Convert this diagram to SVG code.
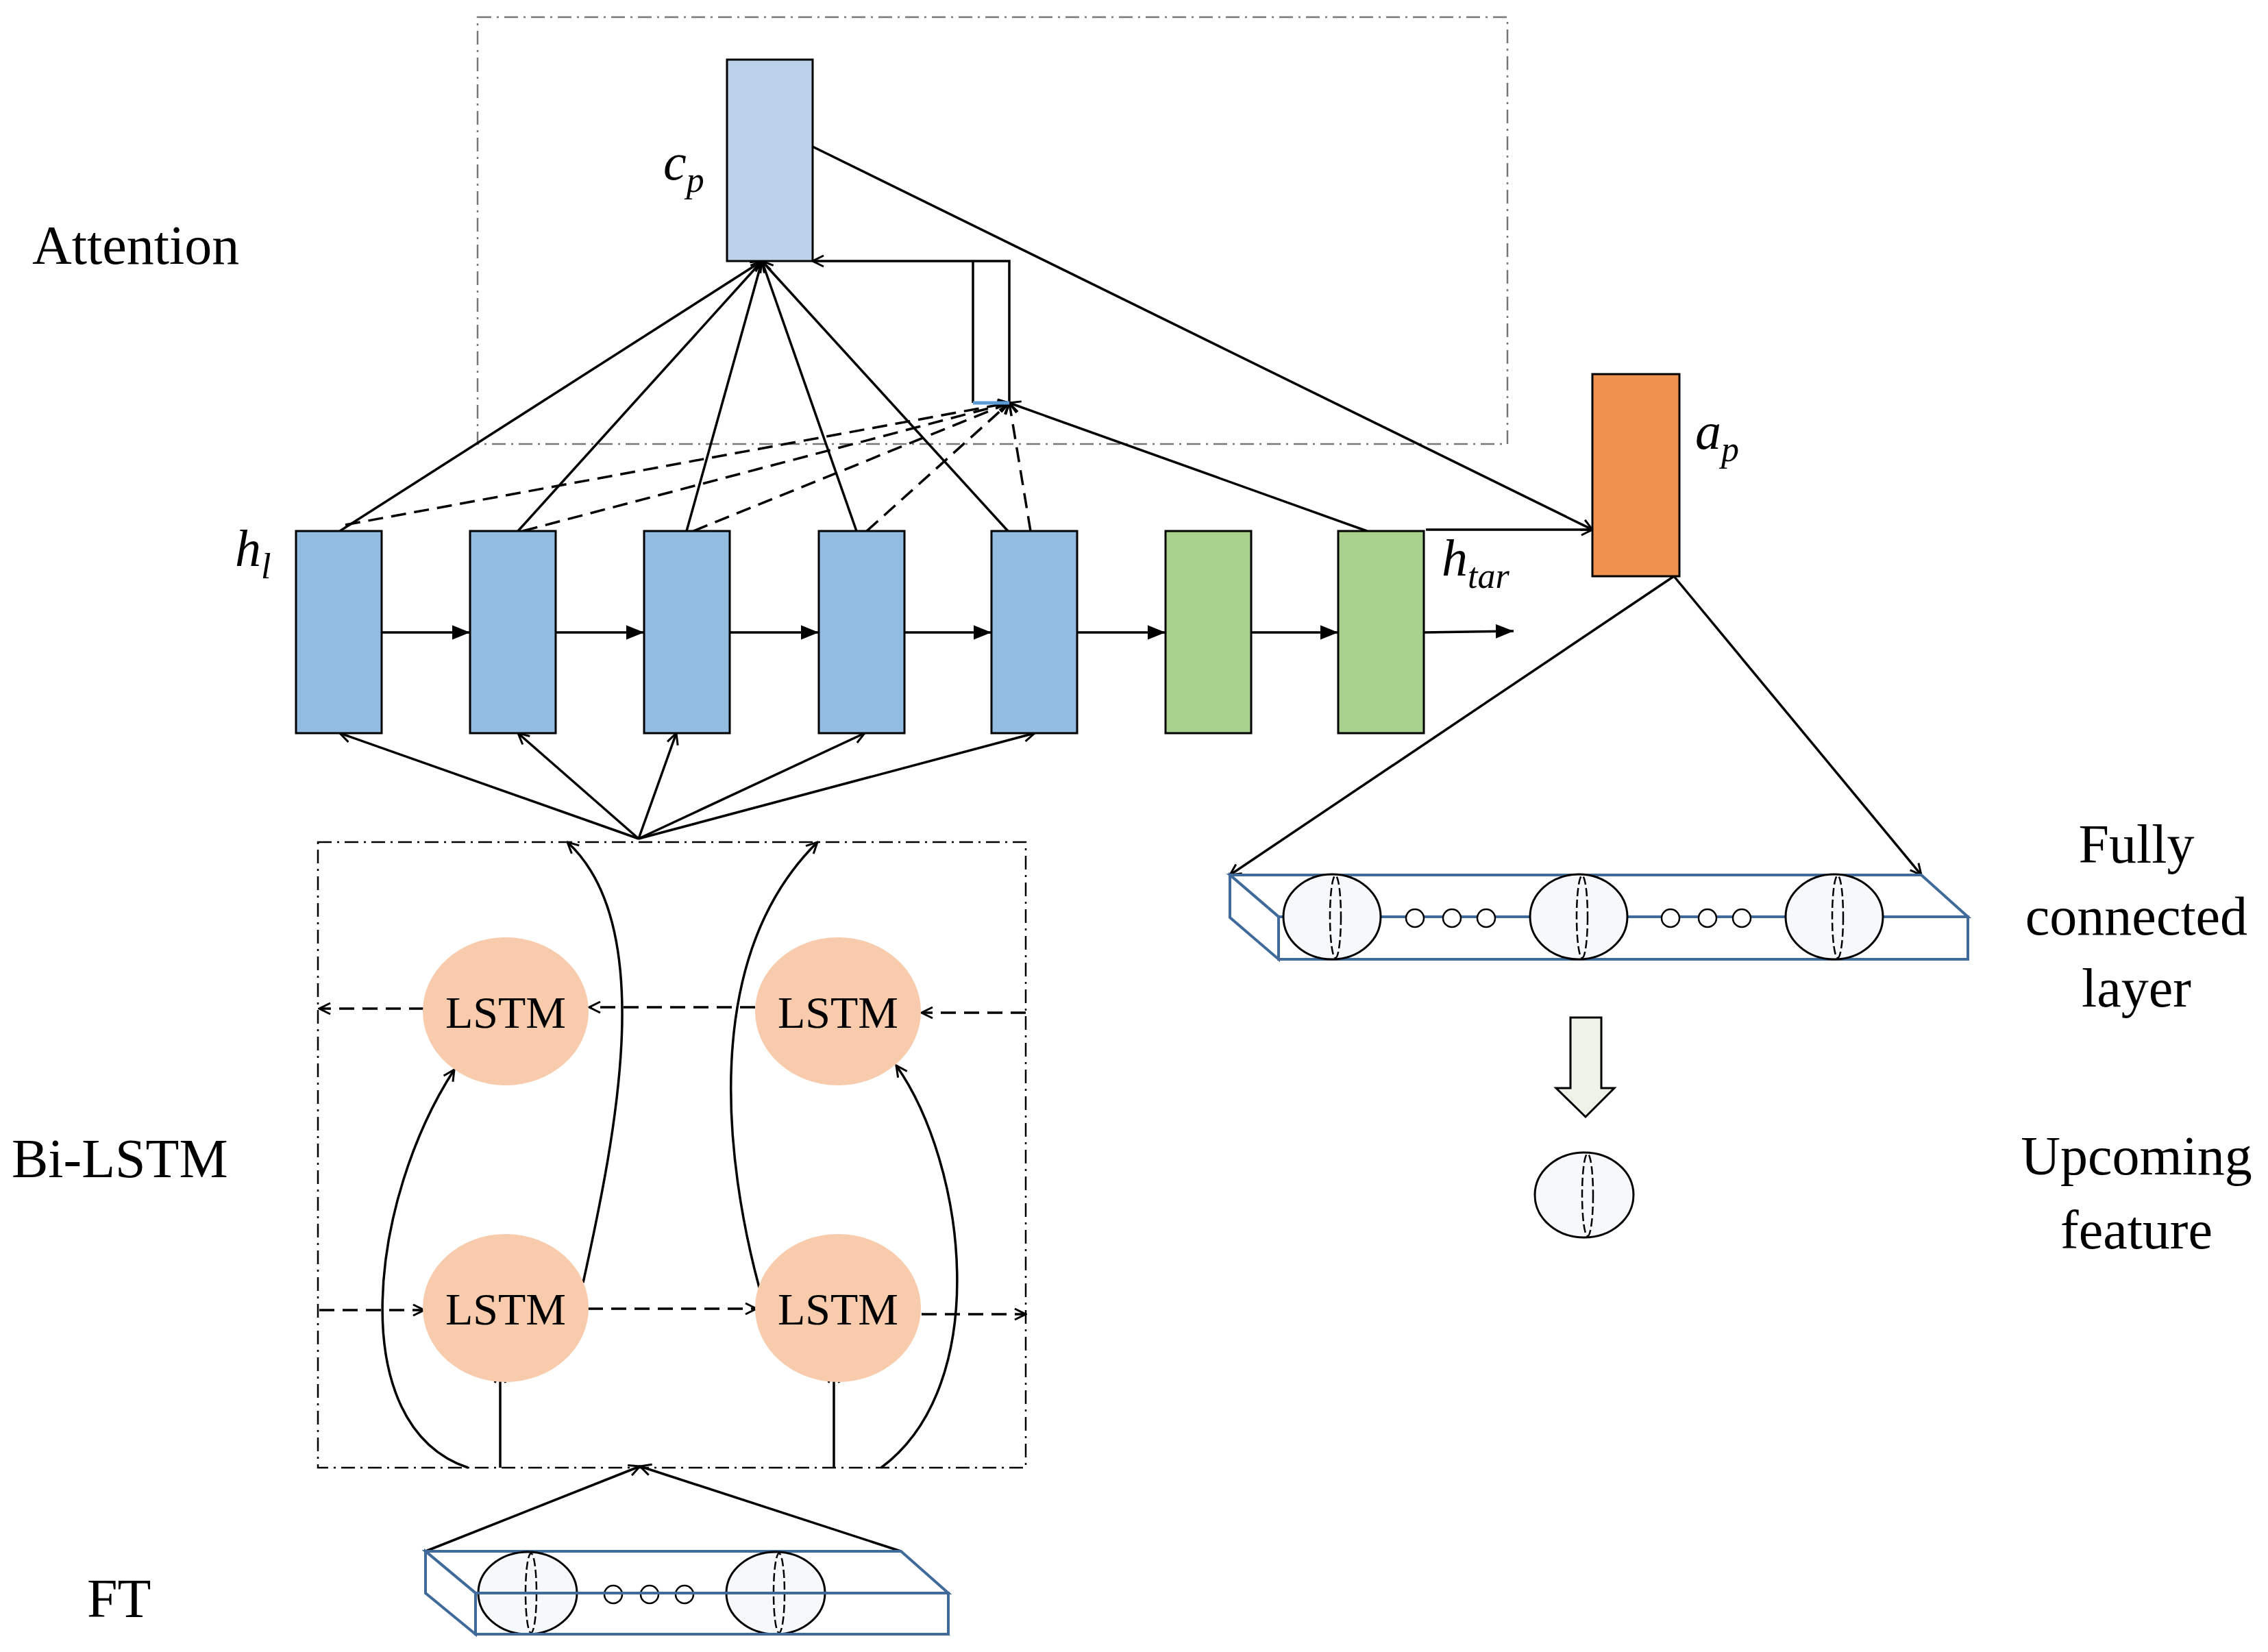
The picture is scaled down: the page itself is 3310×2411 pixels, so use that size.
<svg xmlns="http://www.w3.org/2000/svg" width="3310" height="2411" viewBox="0 0 3310 2411">
<style>
.t{font-family:"Liberation Serif",serif;fill:#000}
.ln{stroke:#000;stroke-width:3.5;fill:none}
.ds{stroke:#000;stroke-width:3.5;fill:none;stroke-dasharray:22 12}
.box{stroke:#000;stroke-width:2.5;fill:none;stroke-dasharray:20 8 3 8}
.blue{fill:#93bce2;stroke:#000;stroke-width:3}
.green{fill:#a8d18d;stroke:#000;stroke-width:3}
.fc{fill:#fff;stroke:#3f6a9a;stroke-width:4}
.big{fill:#f6f8fb;stroke:#000;stroke-width:3}
.lens{fill:none;stroke:#000;stroke-width:2.5;stroke-dasharray:12 5}
.sm{fill:#fff;stroke:#000;stroke-width:2.5}
.lstm{fill:#f7cbac}
</style>
<defs>
<marker id="o" viewBox="0 0 20 20" refX="18" refY="10" markerWidth="20" markerHeight="20" markerUnits="userSpaceOnUse" orient="auto"><path d="M2,2 L18,10 L2,18" fill="none" stroke="#000" stroke-width="3"/></marker>
<marker id="f" viewBox="0 0 20 20" refX="20" refY="10" markerWidth="26" markerHeight="26" markerUnits="userSpaceOnUse" orient="auto"><path d="M0,2 L20,10 L0,18Z" fill="#000"/></marker>
</defs>
<text class="t" x="47" y="385" font-size="80">Attention</text>
<text class="t" x="17" y="1718" font-size="80">Bi-LSTM</text>
<text class="t" x="127" y="2360" font-size="80">FT</text>
<g text-anchor="middle" class="t" font-size="80">
<text x="3118" y="1259">Fully</text><text x="3118" y="1364">connected</text><text x="3118" y="1469">layer</text>
<text x="3118" y="1714">Upcoming</text><text x="3118" y="1822">feature</text>
</g>
<rect class="box" x="697" y="25" width="1503" height="623" stroke="#777" style="stroke:#777"/>
<rect class="box" x="464" y="1229" width="1033" height="913"/>
<g id="connectors">
<line class="ln" x1="496" y1="775" x2="1112" y2="381" marker-end="url(#o)"/>
<line class="ln" x1="756" y1="775" x2="1112" y2="381" marker-end="url(#o)"/>
<line class="ln" x1="1002" y1="775" x2="1112" y2="381" marker-end="url(#o)"/>
<line class="ln" x1="1250" y1="775" x2="1112" y2="381" marker-end="url(#o)"/>
<line class="ln" x1="1471" y1="775" x2="1112" y2="381" marker-end="url(#o)"/>
<line class="ds" x1="504" y1="766" x2="1473" y2="588" marker-end="url(#o)"/>
<line class="ds" x1="763" y1="775" x2="1473" y2="588" marker-end="url(#o)"/>
<line class="ds" x1="1012" y1="775" x2="1473" y2="588" marker-end="url(#o)"/>
<line class="ds" x1="1265" y1="775" x2="1473" y2="588" marker-end="url(#o)"/>
<line class="ds" x1="1504" y1="775" x2="1473" y2="588" marker-end="url(#o)"/>
<line class="ln" x1="1995" y1="775" x2="1473" y2="588" marker-end="url(#o)"/>
<polyline class="ln" points="1420,588 1420,381"/>
<polyline class="ln" points="1473,588 1473,381 1186,381" marker-end="url(#o)"/>
<line x1="1420" y1="588" x2="1473" y2="588" stroke="#5b9bd5" stroke-width="5"/>
<line class="ln" x1="1186" y1="214" x2="2324" y2="773" marker-end="url(#o)"/>
<line class="ln" x1="2081" y1="773" x2="2324" y2="773" marker-end="url(#o)"/>
<line class="ln" x1="557" y1="923" x2="686" y2="923" marker-end="url(#f)"/>
<line class="ln" x1="811" y1="923" x2="940" y2="923" marker-end="url(#f)"/>
<line class="ln" x1="1065" y1="923" x2="1195" y2="923" marker-end="url(#f)"/>
<line class="ln" x1="1320" y1="923" x2="1447" y2="923" marker-end="url(#f)"/>
<line class="ln" x1="1572" y1="923" x2="1701" y2="923" marker-end="url(#f)"/>
<line class="ln" x1="1826" y1="923" x2="1953" y2="923" marker-end="url(#f)"/>
<line class="ln" x1="2078" y1="923" x2="2209" y2="921" marker-end="url(#f)"/>
<line class="ln" x1="932" y1="1224" x2="496" y2="1070" marker-end="url(#o)"/>
<line class="ln" x1="932" y1="1224" x2="756" y2="1070" marker-end="url(#o)"/>
<line class="ln" x1="932" y1="1224" x2="987" y2="1070" marker-end="url(#o)"/>
<line class="ln" x1="932" y1="1224" x2="1262" y2="1070" marker-end="url(#o)"/>
<line class="ln" x1="932" y1="1224" x2="1510" y2="1070" marker-end="url(#o)"/>
<path class="ln" d="M851,1872 C900,1650 960,1350 828,1229" marker-end="url(#o)"/>
<path class="ln" d="M1108,1879 C1060,1700 1020,1400 1193,1229" marker-end="url(#o)"/>
<path class="ln" d="M683,2142 C500,2080 540,1750 663,1561" marker-end="url(#o)"/>
<path class="ln" d="M1286,2142 C1450,2020 1410,1700 1308,1555" marker-end="url(#o)"/>
<line class="ln" x1="730" y1="2142" x2="730" y2="2002" marker-end="url(#o)"/>
<line class="ln" x1="1217" y1="2142" x2="1217" y2="2002" marker-end="url(#o)"/>
<line class="ds" x1="619" y1="1472" x2="466" y2="1472" marker-end="url(#o)"/>
<line class="ds" x1="1102" y1="1470" x2="860" y2="1470" marker-end="url(#o)"/>
<line class="ds" x1="1497" y1="1478" x2="1345" y2="1478" marker-end="url(#o)"/>
<line class="ds" x1="466" y1="1912" x2="619" y2="1912" marker-end="url(#o)"/>
<line class="ds" x1="858" y1="1910" x2="1104" y2="1910" marker-end="url(#o)"/>
<line class="ds" x1="1345" y1="1918" x2="1497" y2="1918" marker-end="url(#o)"/>
<line class="ln" x1="621" y1="2264" x2="934" y2="2140" marker-end="url(#o)"/>
<line class="ln" x1="1315" y1="2264" x2="934" y2="2140" marker-end="url(#o)"/>
<line class="ln" x1="2443" y1="841" x2="1795" y2="1277" marker-end="url(#o)"/>
<line class="ln" x1="2443" y1="841" x2="2804" y2="1277" marker-end="url(#o)"/>
</g>
<g id="cp"><rect x="1061" y="87" width="125" height="294" fill="#bdd1ea" stroke="#000" stroke-width="3"/>
<text class="t" x="968" y="262" font-size="76" font-style="italic">c<tspan font-size="52" dy="18">p</tspan></text></g>
<g id="h1"><rect class="blue" x="432" y="775" width="125" height="295"/>
<text class="t" x="343" y="826" font-size="76" font-style="italic">h<tspan font-size="52" dy="18">l</tspan></text></g>
<g id="h2"><rect class="blue" x="686" y="775" width="125" height="295"/></g>
<g id="h3"><rect class="blue" x="940" y="775" width="125" height="295"/></g>
<g id="h4"><rect class="blue" x="1195" y="775" width="125" height="295"/></g>
<g id="h5"><rect class="blue" x="1447" y="775" width="125" height="295"/></g>
<g id="g1"><rect class="green" x="1701" y="775" width="125" height="295"/></g>
<g id="g2"><rect class="green" x="1953" y="775" width="125" height="295"/>
<text class="t" x="2104" y="840" font-size="76" font-style="italic">h<tspan font-size="52" dy="18">tar</tspan></text></g>
<g id="ap"><rect x="2324" y="546" width="127" height="295" fill="#ef9250" stroke="#000" stroke-width="3"/>
<text class="t" x="2474" y="655" font-size="76" font-style="italic">a<tspan font-size="52" dy="18">p</tspan></text></g>
<g id="lstm1"><ellipse class="lstm" cx="738" cy="1476" rx="121" ry="108"/><text class="t" x="738" y="1500" font-size="66" text-anchor="middle">LSTM</text></g>
<g id="lstm2"><ellipse class="lstm" cx="1223" cy="1476" rx="121" ry="108"/><text class="t" x="1223" y="1500" font-size="66" text-anchor="middle">LSTM</text></g>
<g id="lstm3"><ellipse class="lstm" cx="738" cy="1909" rx="121" ry="108"/><text class="t" x="738" y="1933" font-size="66" text-anchor="middle">LSTM</text></g>
<g id="lstm4"><ellipse class="lstm" cx="1223" cy="1909" rx="121" ry="108"/><text class="t" x="1223" y="1933" font-size="66" text-anchor="middle">LSTM</text></g>
<g id="fc">
<polygon class="fc" points="1795,1277 2804,1277 2872,1338 1866,1338"/>
<polygon class="fc" points="1795,1277 1866,1338 1866,1400 1795,1339"/>
<rect class="fc" x="1866" y="1338" width="1006" height="62"/>
<ellipse class="big" cx="1944" cy="1338" rx="71" ry="62"/><ellipse class="lens" cx="1949" cy="1338" rx="8" ry="60"/>
<ellipse class="big" cx="2304" cy="1338" rx="71" ry="62"/><ellipse class="lens" cx="2309" cy="1338" rx="8" ry="60"/>
<ellipse class="big" cx="2677" cy="1338" rx="71" ry="62"/><ellipse class="lens" cx="2682" cy="1338" rx="8" ry="60"/>
<circle class="sm" cx="2065" cy="1340" r="13"/><circle class="sm" cx="2119" cy="1340" r="13"/><circle class="sm" cx="2169" cy="1340" r="13"/>
<circle class="sm" cx="2438" cy="1340" r="13"/><circle class="sm" cx="2492" cy="1340" r="13"/><circle class="sm" cx="2542" cy="1340" r="13"/>
</g>
<g id="down"><polygon points="2292,1485 2337,1485 2337,1588 2356,1588 2314,1630 2271,1588 2292,1588" fill="#eef3ea" stroke="#000" stroke-width="3"/></g>
<g id="up"><ellipse class="big" cx="2312" cy="1744" rx="72" ry="62"/><ellipse class="lens" cx="2317" cy="1744" rx="8" ry="60"/></g>
<g id="ft">
<polygon class="fc" points="621,2264 1315,2264 1384,2325 694,2325"/>
<polygon class="fc" points="621,2264 694,2325 694,2385 621,2325"/>
<ellipse class="big" cx="770" cy="2325" rx="72" ry="60"/><ellipse class="lens" cx="775" cy="2325" rx="8" ry="58"/>
<ellipse class="big" cx="1132" cy="2325" rx="72" ry="60"/><ellipse class="lens" cx="1137" cy="2325" rx="8" ry="58"/>
<circle class="sm" cx="895" cy="2327" r="13"/><circle class="sm" cx="948" cy="2327" r="13"/><circle class="sm" cx="999" cy="2327" r="13"/>
<rect x="694" y="2325" width="690" height="60" fill="none" stroke="#3f6a9a" stroke-width="4"/>
</g>
</svg>
